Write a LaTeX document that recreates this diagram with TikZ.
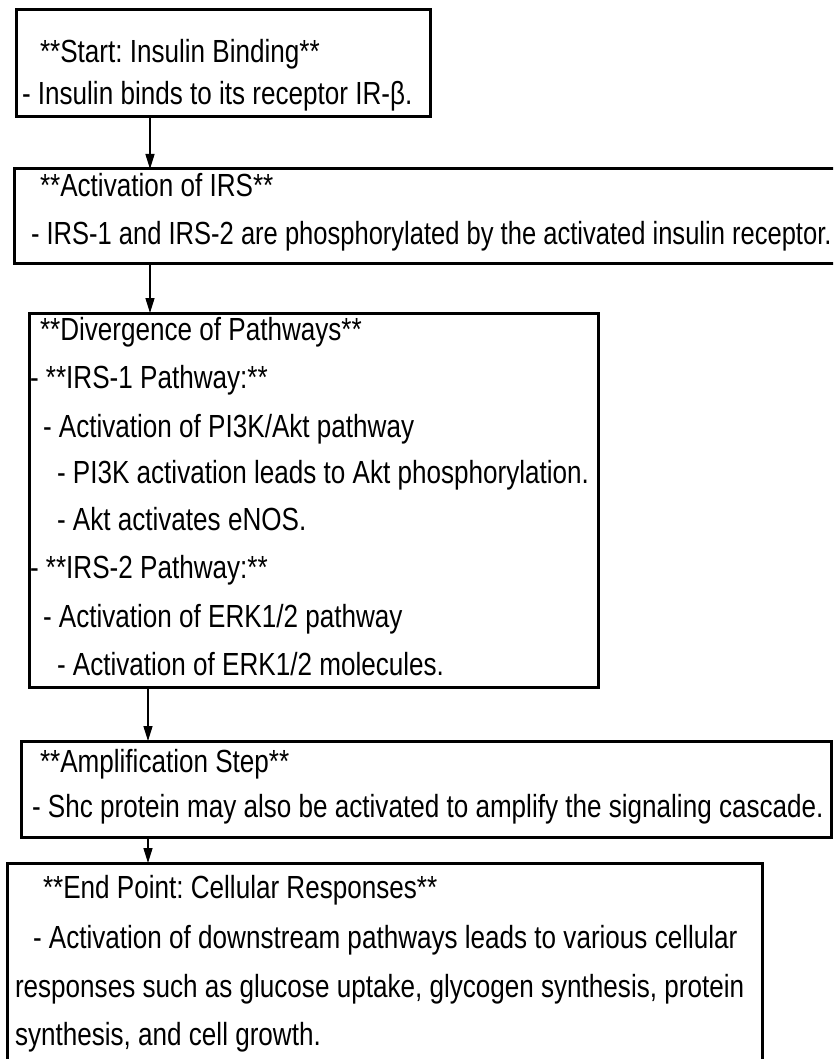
\documentclass[tikz,border=0pt]{standalone}
\usepackage{fontspec}
\setmainfont{Liberation Sans}[FakeStretch=0.815]
\newfontfamily\narrowerfont{Liberation Sans}[FakeStretch=0.798]
\usetikzlibrary{arrows.meta,fit}
\frenchspacing
\begin{document}
\begin{tikzpicture}[x=1pt,y=-1pt,
  box/.style={draw, line width=3pt, inner sep=0pt, outer sep=0pt, rectangle},
  txt/.style={anchor=base west, inner sep=0pt, outer sep=0pt, font=\fontsize{32}{38}\selectfont\frenchspacing},
  arr/.style={line width=1.4pt, -{Triangle[length=15pt,width=9pt]}}]
\useasboundingbox (0,0) rectangle (833,1059);
\clip (0,0) rectangle (833,1059);
% boxes
\node[box, fit={(16,10) (430,117)}] (b1) {};
\node[box, fit={(14,169) (848,263)}] (b2) {};
\node[box, fit={(29,313) (598,687)}] (b3) {};
\node[box, fit={(21,741) (831,837)}] (b4) {};
\node[box, fit={(7,863) (762,1078)}] (b5) {};
% box 1 text
\node[txt] (t11) at (40,63) {**Start: Insulin Binding**};
\node[txt] (t12) at (22,105) {- Insulin binds to its receptor IR-β.};
% box 2 text
\node[txt] (t21) at (40,197) {**Activation of IRS**};
\node[txt, font=\fontsize{32}{38}\narrowerfont\frenchspacing] (t22) at (31,244) {- IRS-1 and IRS-2 are phosphorylated by the activated insulin receptor.};
% box 3 text
\node[txt] (t31) at (40,340) {**Divergence of Pathways**};
\node[txt] (t32) at (30,388) {- **IRS-1 Pathway:**};
\node[txt] (t33) at (43,437) {- Activation of PI3K/Akt pathway};
\node[txt] (t34) at (57,483) {- PI3K activation leads to Akt phosphorylation.};
\node[txt] (t35) at (57,530) {- Akt activates eNOS.};
\node[txt] (t36) at (30,578) {- **IRS-2 Pathway:**};
\node[txt] (t37) at (43,627) {- Activation of ERK1/2 pathway};
\node[txt] (t38) at (57,675) {- Activation of ERK1/2 molecules.};
% box 4 text
\node[txt] (t41) at (40,772) {**Amplification Step**};
\node[txt] (t42) at (32,817) {- Shc protein may also be activated to amplify the signaling cascade.};
% box 5 text
\node[txt] (t51) at (43,898) {**End Point: Cellular Responses**};
\node[txt] (t52) at (33,948) {- Activation of downstream pathways leads to various cellular};
\node[txt] (t53) at (15,997) {responses such as glucose uptake, glycogen synthesis, protein};
\node[txt] (t54) at (15,1045) {synthesis, and cell growth.};
% connectors
\coordinate (ax) at (150,0);
\coordinate (bx) at (148,0);
\draw[arr] (b1.south -| ax) -- (b2.north -| ax);
\draw[arr] (b2.south -| ax) -- (b3.north -| ax);
\draw[arr] (b3.south -| bx) -- (b4.north -| bx);
\draw[arr] (b4.south -| bx) -- (b5.north -| bx);
\end{tikzpicture}
\end{document}
